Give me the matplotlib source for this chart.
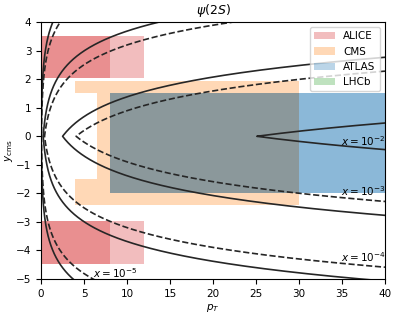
#!/usr/bin/env python3
"""psi(2S) acceptance of the LHC experiments vs. the Bjorken-x contours in the (pT, y_cms) plane."""
import numpy as np
import matplotlib.pyplot as plt
from matplotlib.patches import Patch, Rectangle

# kinematic contours: x = 2 pT / sqrt(s) * exp(-|y|)
X_VALUES = [1e-2, 1e-3, 1e-4, 1e-5]
SQRT_S = [5020.0, 8160.0]          # GeV, solid / dashed
LINESTYLES = ["-", "--"]

# label positions for the contours (pT, y)
X_LABELS = ["$x=10^{-2}$", "$x=10^{-3}$", "$x=10^{-4}$", "$x=10^{-5}$"]
X_LABEL_PT = [34.9, 34.9, 34.9, 6.0]
X_LABEL_Y = [-0.16, -1.93, -4.22, -4.78]

# acceptance boxes per experiment: (pt_lo, pt_hi, y_lo, y_hi)
ALICE_BOXES = [
    (0, 12, 2.03, 3.53), (0, 2, 2.03, 3.53), (2, 3, 2.03, 3.53), (3, 5, 2.03, 3.53), (5, 8, 2.03, 3.53),
    (0, 12, -4.46, -2.96), (0, 2, -4.46, -2.96), (2, 3, -4.46, -2.96), (3, 5, -4.46, -2.96), (5, 8, -4.46, -2.96),
]
CMS_BOXES = [
    (4, 6.5, 1.5, 1.93), (6.5, 30, 1.5, 1.93),
    (6.5, 10, -1.5, 1.5), (10, 12, -1.5, 1.5), (12, 14, -1.5, 1.5), (14, 20, -1.5, 1.5), (20, 30, -1.5, 1.5),
    (4, 6.5, -2.4, -1.5), (6.5, 30, -2.4, -1.5),
    (8, 30, -2.0, 1.5),
]
ATLAS_BOXES = [(8, 40, -2.0, 1.5), (8, 10, -2.0, 1.5), (10, 12, -2.0, 1.5), (12, 14, -2.0, 1.5),
               (14, 20, -2.0, 1.5), (20, 40, -2.0, 1.5)]
LHCB_BOXES = []

EXPERIMENTS = ["ALICE", "CMS", "ATLAS", "LHCb"]
COLORS = ["tab:red", "tab:orange", "tab:blue", "tab:green"]


def main():
    plt.rcParams["font.size"] = 7.5
    fig = plt.figure(figsize=(3.99, 3.16), dpi=100)
    ax = fig.add_axes([0.1028, 0.117, 0.862, 0.813])

    for boxes, color in zip([ALICE_BOXES, CMS_BOXES, ATLAS_BOXES, LHCB_BOXES], COLORS):
        for lo, hi, ylo, yhi in boxes:
            ax.add_patch(Rectangle((lo, ylo), hi - lo, yhi - ylo, facecolor=color,
                                   alpha=0.3, edgecolor="none", lw=0))

    for rs, ls in zip(SQRT_S, LINESTYLES):
        for xv in X_VALUES:
            pt0 = xv * rs / 2.0
            if pt0 >= 40:
                continue
            pt = np.geomspace(pt0, 40, 400)
            y = np.log(2 * pt / (xv * rs))
            ax.plot(np.r_[pt[::-1], pt], np.r_[y[::-1], -y], ls=ls, color="0.15", lw=1.2)

    for lab, px, py in zip(X_LABELS, X_LABEL_PT, X_LABEL_Y):
        ax.text(px, py, lab, ha="left", va="center", fontsize=7.5)

    handles = [Patch(facecolor=c, alpha=0.3, label=n) for n, c in zip(EXPERIMENTS, COLORS)]
    ax.legend(handles=handles, loc="upper right", fontsize=7.5)

    ax.set_xlim(0, 40)
    ax.set_ylim(-5, 4)
    ax.set_xlabel("$p_T$", labelpad=2)
    ax.set_ylabel(r"$y_{\rm cms}$", labelpad=1)
    ax.set_title(r"$\psi(2S)$", fontsize=9)
    fig.savefig("out.png", dpi=100)


if __name__ == "__main__":
    main()
